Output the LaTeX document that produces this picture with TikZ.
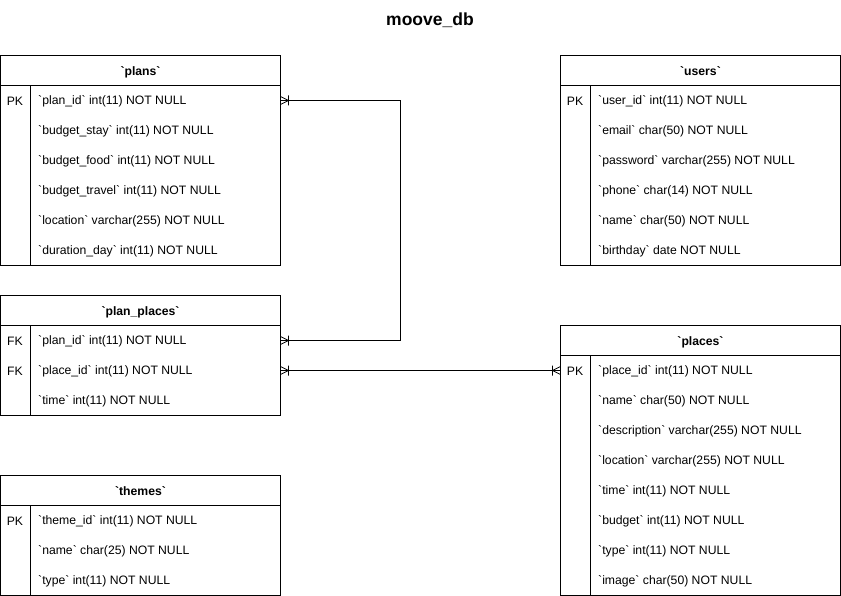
\documentclass[tikz,border=0pt]{standalone}
\usepackage{fontspec}
\setmainfont{Liberation Sans}[Ligatures=TeXOff]
\begin{document}
\begin{tikzpicture}[x=1pt,y=-1pt,
  box/.style={draw=black,line width=1pt,anchor=north west,minimum width=280pt,inner sep=0pt,outer sep=0pt},
  hdr/.style={box,minimum height=30pt,text height=9.5pt,text depth=0pt,font=\fontsize{12.2}{14}\selectfont\bfseries},
  body/.style={box,minimum height=#1},
  key/.style={anchor=center,inner sep=0pt,yshift=-0.8pt,font=\fontsize{12.2}{14}\selectfont},
  fld/.style={anchor=west,inner sep=0pt,yshift=-0.8pt,font=\fontsize{12.2}{14}\selectfont},
  conn/.style={draw=black,line width=1pt},
  crow/.style={line width=0.8pt},
  title/.style={font=\fontsize{17.5}{20}\selectfont\bfseries,inner sep=0pt}]
\useasboundingbox (0,0) rectangle (841,596);
\node[title] (ttl) at (430,20) {moove\_db};
% ---------- plans
\node[hdr] (plans) at (0.5,55.5) {`plans`};
\node[body=180pt] (plansb) at (0.5,85.5) {};
\draw[conn] (30.5,85.5) -- (30.5,265.5);
\node[key] (plansk1) at (15,100.5) {PK};
\node[fld] (plansf1) at (38,100.5) {`plan\_id` int(11) NOT NULL};
\node[fld] (plansf2) at (38,130.5) {`budget\_stay` int(11) NOT NULL};
\node[fld] (plansf3) at (38,160.5) {`budget\_food` int(11) NOT NULL};
\node[fld] (plansf4) at (38,190.5) {`budget\_travel` int(11) NOT NULL};
\node[fld] (plansf5) at (38,220.5) {`location` varchar(255) NOT NULL};
\node[fld] (plansf6) at (38,250.5) {`duration\_day` int(11) NOT NULL};
% ---------- users
\node[hdr] (users) at (560.5,55.5) {`users`};
\node[body=180pt] (usersb) at (560.5,85.5) {};
\draw[conn] (590.5,85.5) -- (590.5,265.5);
\node[key] (usersk1) at (575,100.5) {PK};
\node[fld] (usersf1) at (598,100.5) {`user\_id` int(11) NOT NULL};
\node[fld] (usersf2) at (598,130.5) {`email` char(50) NOT NULL};
\node[fld] (usersf3) at (598,160.5) {`password` varchar(255) NOT NULL};
\node[fld] (usersf4) at (598,190.5) {`phone` char(14) NOT NULL};
\node[fld] (usersf5) at (598,220.5) {`name` char(50) NOT NULL};
\node[fld] (usersf6) at (598,250.5) {`birthday` date NOT NULL};
% ---------- plan_places
\node[hdr] (pp) at (0.5,295.5) {`plan\_places`};
\node[body=90pt] (ppb) at (0.5,325.5) {};
\draw[conn] (30.5,325.5) -- (30.5,415.5);
\node[key] (ppk1) at (15,340.5) {FK};
\node[key] (ppk2) at (15,370.5) {FK};
\node[fld] (ppf1) at (38,340.5) {`plan\_id` int(11) NOT NULL};
\node[fld] (ppf2) at (38,370.5) {`place\_id` int(11) NOT NULL};
\node[fld] (ppf3) at (38,400.5) {`time` int(11) NOT NULL};
% ---------- themes
\node[hdr] (themes) at (0.5,475.5) {`themes`};
\node[body=90pt] (themesb) at (0.5,505.5) {};
\draw[conn] (30.5,505.5) -- (30.5,595.5);
\node[key] (themesk1) at (15,520.5) {PK};
\node[fld] (themesf1) at (38,520.5) {`theme\_id` int(11) NOT NULL};
\node[fld] (themesf2) at (38,550.5) {`name` char(25) NOT NULL};
\node[fld] (themesf3) at (38,580.5) {`type` int(11) NOT NULL};
% ---------- places
\node[hdr] (places) at (560.5,325.5) {`places`};
\node[body=240pt] (placesb) at (560.5,355.5) {};
\draw[conn] (590.5,355.5) -- (590.5,595.5);
\node[key] (placesk1) at (575,370.5) {PK};
\node[fld] (placesf1) at (598,370.5) {`place\_id` int(11) NOT NULL};
\node[fld] (placesf2) at (598,400.5) {`name` char(50) NOT NULL};
\node[fld] (placesf3) at (598,430.5) {`description` varchar(255) NOT NULL};
\node[fld] (placesf4) at (598,460.5) {`location` varchar(255) NOT NULL};
\node[fld] (placesf5) at (598,490.5) {`time` int(11) NOT NULL};
\node[fld] (placesf6) at (598,520.5) {`budget` int(11) NOT NULL};
\node[fld] (placesf7) at (598,550.5) {`type` int(11) NOT NULL};
\node[fld] (placesf8) at (598,580.5) {`image` char(50) NOT NULL};
% ---------- connectors
\coordinate (e1) at (plansb.east |- 0,100.5);
\coordinate (e2) at (ppb.east |- 0,340.5);
\coordinate (e3) at (ppb.east |- 0,370.5);
\coordinate (e4) at (placesb.west |- 0,370.5);
\coordinate (bend1) at (400.5,100.5);
\coordinate (bend2) at (400.5,340.5);
\draw[conn] (e1) -- (bend1) -- (bend2) -- (e2);
\draw[conn] (e3) -- (e4);
% crow's feet (one-or-many)
\foreach \c in {e1,e2,e3}{
  \draw[crow] ([shift={(8,0)}]\c) -- ([shift={(0,-4)}]\c)
        ([shift={(8,0)}]\c) -- ([shift={(0,4)}]\c)
        ([shift={(8,-5)}]\c) -- ([shift={(8,5)}]\c);
}
\draw[crow] ([shift={(-8,0)}]e4) -- ([shift={(0,-4)}]e4)
      ([shift={(-8,0)}]e4) -- ([shift={(0,4)}]e4)
      ([shift={(-8,-5)}]e4) -- ([shift={(-8,5)}]e4);
\end{tikzpicture}
\end{document}
